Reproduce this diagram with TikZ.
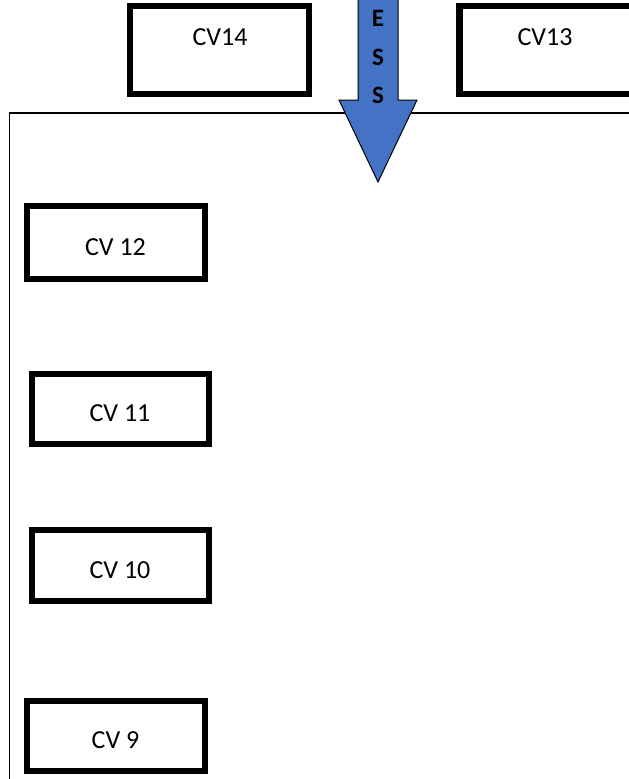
\documentclass[tikz,border=0pt]{standalone}
\usepackage{fontspec}
\setmainfont{Carlito}
\begin{document}
\begin{tikzpicture}[x=1pt,y=-1pt,
  cvbox/.style={draw=black,line width=6.5pt,fill=white,inner sep=0pt},
  cvtext/.style={font=\fontsize{26}{30}\selectfont,inner sep=0pt},
  arrtext/.style={font=\fontsize{25}{28}\selectfont\bfseries,inner sep=0pt},
  frame/.style={draw=black,line width=1.5pt}]
\useasboundingbox (0,0) rectangle (629,779);
\clip (0,0) rectangle (629,779);
% large frame
\draw[frame] (9.5,800) |- (700,113);
% top boxes
\node[cvbox,minimum width=179pt,minimum height=88pt] (cv14) at (219.5,50) {};
\node[cvtext] (t14) at (220,37) {CV14};
\node[cvbox,minimum width=260pt,minimum height=88pt,anchor=west] (cv13) at (456,50) {};
\node[cvtext] (t13) at (545,37) {CV13};
% left boxes
\node[cvbox,minimum width=178pt,minimum height=73pt] (cv12) at (116,242.5) {};
\node[cvtext] (t12) at (115.5,247) {CV 12};
\node[cvbox,minimum width=177pt,minimum height=70pt] (cv11) at (120.5,409) {};
\node[cvtext] (t11) at (120,413) {CV 11};
\node[cvbox,minimum width=177pt,minimum height=71pt] (cv10) at (120.5,565.5) {};
\node[cvtext] (t10) at (120,570) {CV 10};
\node[cvbox,minimum width=178pt,minimum height=70pt] (cv9) at (116,736) {};
\node[cvtext] (t9) at (115.5,740) {CV 9};
% arrow
\coordinate (tip) at (378,182);
\draw[fill={rgb,255:red,68;green,114;blue,196},draw=black,line width=1pt,line join=miter]
  (358,-5) -- (358,100) -- (339,100) -- (tip) -- (417,100) -- (398,100) -- (398,-5) -- cycle;
\node[arrtext] (e1) at (378,18) {E};
\node[arrtext] (s1) at (378,57) {S};
\node[arrtext] (s2) at (378,95) {S};
\end{tikzpicture}
\end{document}
